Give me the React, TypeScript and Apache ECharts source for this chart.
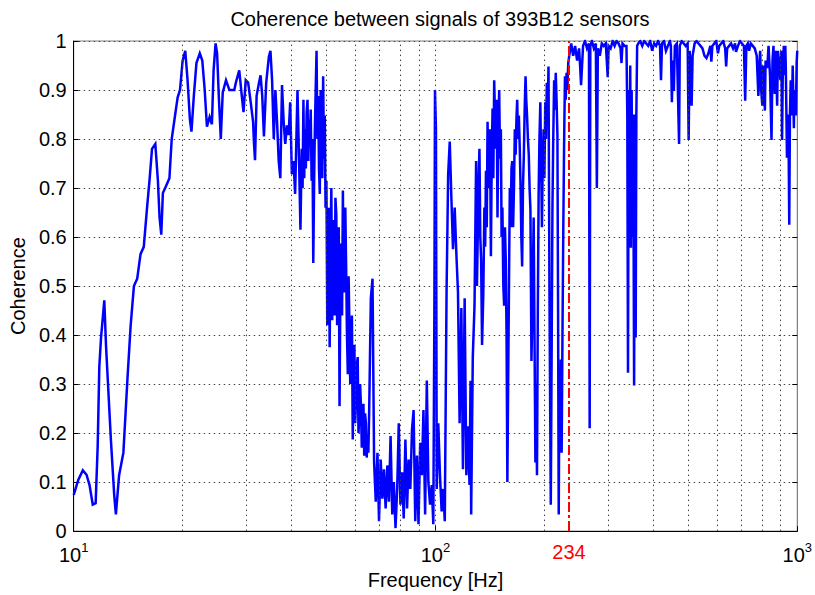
import React, { useEffect, useRef } from 'react';
import * as echarts from 'echarts';

// Coherence, as [frequency Hz, coherence]
const lowBand: [number, number][] = [
  [10.0, 0.074], [10.3, 0.105], [10.6, 0.124], [10.85, 0.115], [11.06, 0.094], [11.29, 0.054], [11.5, 0.057],
  [11.65, 0.174], [11.77, 0.335], [11.9, 0.395], [12.05, 0.44], [12.15, 0.471], [12.28, 0.38], [12.4, 0.32],
  [12.67, 0.187], [12.94, 0.074], [13.08, 0.034], [13.35, 0.114], [13.72, 0.16], [14.07, 0.307], [14.37, 0.42],
  [14.67, 0.5], [14.98, 0.515], [15.3, 0.565], [15.62, 0.58], [15.95, 0.66], [16.22, 0.72], [16.46, 0.78],
  [16.81, 0.79], [17.09, 0.715], [17.27, 0.64], [17.46, 0.605], [17.64, 0.69], [17.9, 0.7], [18.39, 0.72],
  [18.66, 0.8], [19.06, 0.848], [19.38, 0.885], [19.67, 0.9], [20.0, 0.96], [20.34, 0.98], [20.64, 0.92],
  [20.95, 0.84], [21.16, 0.815], [21.48, 0.888], [21.84, 0.955], [22.31, 0.975], [22.67, 0.96], [23.02, 0.9],
  [23.35, 0.825], [23.75, 0.845], [24.1, 0.83], [24.36, 0.94], [24.67, 0.995], [24.91, 0.975], [25.18, 0.888],
  [25.5, 0.8], [25.82, 0.895], [26.36, 0.92], [26.93, 0.9], [27.79, 0.9], [28.07, 0.915], [28.68, 0.94],
  [29.15, 0.888], [29.47, 0.855], [29.89, 0.92], [30.35, 0.915], [30.85, 0.875], [31.32, 0.835], [31.51, 0.79],
  [31.71, 0.757], [32.03, 0.888], [32.52, 0.915], [32.85, 0.93], [33.2, 0.888], [33.56, 0.805], [34.05, 0.915],
  [34.63, 0.968], [34.98, 0.98], [35.35, 0.92], [35.73, 0.8], [36.1, 0.9], [36.48, 0.835], [36.87, 0.755],
  [37.25, 0.72], [37.65, 0.91], [38.05, 0.835], [38.44, 0.79], [38.85, 0.828], [39.27, 0.808], [39.66, 0.875],
  [40.09, 0.728], [40.52, 0.755], [40.93, 0.688], [41.55, 0.9], [41.97, 0.755], [42.34, 0.615],
];

const midBand: [number, number][] = [
  [42.69, 0.78], [42.92, 0.7], [43.15, 0.88], [43.37, 0.72], [43.58, 0.82], [43.82, 0.74], [44.05, 0.855],
  [44.29, 0.88], [44.52, 0.755], [44.75, 0.84], [44.97, 0.795], [45.2, 0.86], [45.46, 0.715], [45.7, 0.8],
  [45.94, 0.547], [46.17, 0.7], [46.41, 0.82], [46.65, 0.9], [46.91, 0.98], [47.15, 0.8], [47.41, 0.888],
  [47.65, 0.74], [47.89, 0.688], [48.15, 0.9], [48.4, 0.82], [48.66, 0.72], [48.92, 0.928], [49.17, 0.76],
  [49.42, 0.848], [49.68, 0.66], [49.95, 0.715], [50.22, 0.42], [50.48, 0.515], [50.74, 0.66], [50.99, 0.375],
  [51.27, 0.58], [51.54, 0.7], [51.82, 0.43], [52.1, 0.635], [52.36, 0.5], [52.62, 0.44], [52.9, 0.68],
  [53.19, 0.647], [53.47, 0.42], [53.76, 0.555], [54.03, 0.62], [54.3, 0.255], [54.6, 0.5], [54.88, 0.587],
  [55.18, 0.44], [55.47, 0.695], [55.75, 0.5], [56.03, 0.487], [56.33, 0.66], [56.63, 0.54], [56.93, 0.4],
  [57.24, 0.32], [57.53, 0.52], [57.82, 0.42], [58.13, 0.3], [58.44, 0.36], [58.75, 0.44], [59.07, 0.187],
  [59.37, 0.33], [59.67, 0.38], [59.99, 0.22], [60.31, 0.267], [60.63, 0.34], [60.95, 0.355], [61.26, 0.2],
  [61.57, 0.234], [61.9, 0.3], [62.23, 0.255], [62.56, 0.17], [62.9, 0.2], [63.22, 0.26], [63.54, 0.154],
  [63.88, 0.24], [64.22, 0.22], [64.56, 0.15], [64.91, 0.194], [65.23, 0.16], [65.56, 0.24], [66.27, 0.475],
  [66.98, 0.515], [67.66, 0.14], [68.38, 0.06], [69.12, 0.16], [69.81, 0.02], [70.56, 0.146], [71.32, 0.066],
  [72.04, 0.126], [72.82, 0.046], [73.6, 0.134], [74.34, 0.06], [75.14, 0.194], [75.95, 0.034], [76.71, 0.1],
  [77.54, 0.006], [78.37, 0.086], [79.16, 0.22], [80.01, 0.054], [80.87, 0.12], [81.69, 0.026], [82.57, 0.187],
  [83.45, 0.046], [84.3, 0.146], [85.2, 0.086], [86.12, 0.207], [86.99, 0.247], [87.92, 0.02], [88.87, 0.154],
  [89.76, 0.014], [90.73, 0.18], [91.7, 0.114], [92.63, 0.247], [93.62, 0.034], [94.63, 0.307], [95.58, 0.1],
  [96.61, 0.054], [97.65, 0.094], [98.63, 0.014], [99.3, 0.45], [99.69, 0.9], [100.3, 0.82], [100.8, 0.086],
];

const upperBand: [number, number][] = [
  [101.8, 0.22], [102.9, 0.114], [104.0, 0.04], [105.0, 0.086], [106.1, 0.02], [107.3, 0.487], [108.4, 0.728],
  [109.5, 0.795], [110.7, 0.675], [111.8, 0.575], [113.0, 0.66], [114.2, 0.567], [115.4, 0.487], [116.6, 0.22],
  [117.9, 0.455], [119.1, 0.126], [120.4, 0.475], [121.7, 0.114], [122.9, 0.214], [124.2, 0.094], [125.0, 0.307],
  [125.5, 0.034], [126.8, 0.355], [128.2, 0.46], [128.9, 0.62], [129.5, 0.755], [130.2, 0.5], [130.9, 0.607],
  [131.6, 0.72], [132.3, 0.78], [133.0, 0.6], [133.7, 0.555], [134.5, 0.38], [135.6, 0.487], [136.5, 0.66],
  [137.2, 0.58], [137.9, 0.735], [138.6, 0.62], [139.3, 0.835], [140.0, 0.7], [140.8, 0.755], [141.5, 0.82],
  [142.3, 0.561], [143.0, 0.75], [143.8, 0.862], [144.5, 0.72], [145.3, 0.92], [146.1, 0.84], [146.9, 0.78],
  [147.6, 0.88], [148.4, 0.64], [149.2, 0.82], [150.0, 0.9], [150.8, 0.76], [151.6, 0.82], [152.3, 0.6],
  [153.1, 0.66], [154.0, 0.5], [154.8, 0.46], [155.6, 0.62], [156.4, 0.555], [157.2, 0.4], [158.0, 0.1],
  [158.8, 0.3], [159.7, 0.515], [160.5, 0.7], [161.4, 0.62], [162.2, 0.74], [163.0, 0.755], [163.9, 0.62],
  [164.8, 0.7], [165.7, 0.82], [166.6, 0.768], [167.4, 0.84], [168.2, 0.88], [169.1, 0.8], [170.0, 0.848],
  [171.0, 0.78], [171.9, 0.7], [172.7, 0.6], [173.6, 0.54], [174.5, 0.7], [175.5, 0.768], [176.4, 0.86],
  [177.4, 0.928], [178.2, 0.88], [179.1, 0.848], [180.1, 0.8], [181.1, 0.768], [182.0, 0.7], [183.0, 0.655],
  [184.2, 0.347], [185.7, 0.5], [186.8, 0.64], [187.8, 0.4], [188.9, 0.14], [189.8, 0.3], [190.8, 0.114],
  [191.8, 0.45], [192.8, 0.688], [193.8, 0.8], [194.9, 0.875], [195.9, 0.75], [196.9, 0.62], [197.9, 0.75],
  [199.0, 0.82], [200.0, 0.72], [201.1, 0.875], [202.1, 0.8], [203.1, 0.915], [204.2, 0.85], [205.3, 0.948],
  [206.6, 0.475], [208.3, 0.054], [209.4, 0.35], [210.5, 0.655], [211.6, 0.8], [212.8, 0.92], [213.9, 0.86],
  [215.0, 0.935], [216.1, 0.88], [217.3, 0.808], [218.2, 0.45], [219.1, 0.034], [220.0, 0.3], [221.0, 0.16],
  [222.1, 0.35], [223.2, 0.16], [224.4, 0.4], [225.6, 0.62], [226.8, 0.8], [228.0, 0.928], [229.1, 0.88],
  [230.3, 0.935], [231.5, 0.9], [232.8, 0.955],
];

const highBand: [number, number][] = [
  [235.3, 0.98], [237.2, 0.995], [240.2, 0.97], [243.2, 0.99], [246.3, 0.96], [249.4, 0.985], [251.0, 0.95],
  [252.6, 0.91], [255.8, 0.99], [259.0, 1.0], [262.3, 0.985], [265.6, 0.995], [266.8, 0.21], [267.9, 0.99],
  [270.6, 1.0], [274.0, 0.985], [277.5, 0.995], [279.3, 0.7], [281.1, 0.985], [284.6, 0.97], [288.2, 0.995],
  [291.8, 0.99], [295.6, 0.995], [299.3, 0.926], [301.1, 0.99], [304.9, 0.985], [308.8, 1.0], [312.7, 0.99],
  [316.6, 1.0], [320.6, 0.995], [324.7, 0.985], [326.7, 0.955], [328.8, 0.995], [333.0, 0.99], [337.2, 0.99],
  [339.0, 0.85], [340.5, 0.323], [342.0, 0.9], [343.7, 0.578], [345.4, 0.95], [346.9, 0.578], [348.5, 0.9],
  [350.2, 0.6], [352.0, 0.85], [354.0, 0.297], [355.8, 0.85], [357.6, 0.395], [359.1, 0.85], [360.9, 0.99],
  [363.6, 0.995], [368.2, 1.0], [372.9, 0.99], [377.6, 1.0], [382.4, 0.995], [387.2, 0.99], [392.1, 1.0],
  [397.1, 0.98], [402.1, 0.995], [407.2, 0.99], [412.3, 1.0], [417.5, 0.99], [420.1, 0.92], [422.8, 0.995],
  [428.2, 1.0], [433.6, 0.98], [439.1, 0.99], [444.6, 1.0], [447.4, 0.99], [450.2, 0.875], [453.0, 0.96],
  [455.9, 0.898], [458.8, 0.99], [464.6, 0.995], [471.3, 0.79], [473.4, 0.99], [479.4, 1.0], [485.5, 0.995],
  [491.6, 0.99], [497.8, 0.995], [500.9, 0.798], [504.1, 0.98], [507.3, 0.95], [510.5, 0.868], [513.7, 0.97],
  [520.3, 0.995], [526.8, 1.0], [533.4, 0.995], [540.2, 0.99], [547.0, 0.985], [554.0, 0.97], [561.0, 0.965],
  [568.1, 0.975], [575.2, 0.99], [578.8, 0.958], [582.4, 0.99], [589.8, 0.995], [597.2, 1.0], [603.6, 0.975],
  [608.6, 0.99], [616.3, 0.995], [624.1, 1.0], [632.0, 0.985], [636.0, 0.948], [640.0, 0.985], [648.1, 0.99],
  [656.3, 0.995], [664.6, 0.985], [673.0, 0.995], [677.2, 0.978], [685.8, 0.99], [694.4, 1.0], [703.2, 0.995],
  [712.1, 0.99], [717.9, 0.878], [723.3, 0.99], [730.1, 0.995], [736.1, 0.98], [744.0, 0.995], [753.4, 0.99],
  [762.9, 0.985], [772.5, 0.97], [780.8, 0.888], [784.8, 0.95], [789.7, 0.98], [794.7, 0.9], [800.7, 0.868],
  [804.7, 0.95], [809.8, 0.9], [813.8, 0.858], [817.4, 0.96], [826.2, 0.945], [833.0, 0.99], [840.8, 0.93],
  [848.8, 0.798], [854.2, 0.96], [859.6, 0.99], [866.6, 0.892], [873.2, 0.98], [879.8, 0.868], [884.2, 0.98],
  [889.8, 0.96], [898.2, 0.92], [903.9, 0.98], [907.8, 0.798], [912.4, 0.95], [918.1, 0.99], [922.7, 0.93],
  [926.8, 0.99], [929.7, 0.945], [936.7, 0.762], [941.4, 0.85], [946.2, 0.8], [950.3, 0.625], [954.5, 0.85],
  [959.3, 0.92], [966.6, 0.848], [971.4, 0.95], [978.7, 0.822], [980.6, 0.88], [986.8, 0.9], [991.1, 0.848],
  [996.1, 0.955], [1000, 0.98],
];

const gridFreqs = [20, 30, 40, 50, 60, 70, 80, 90, 100, 200, 300, 400, 500, 600, 700, 800, 900];
const markerFreq = 234;
const titleText = 'Coherence between signals of 393B12 sensors';
const xName = 'Frequency [Hz]';
const yName = 'Coherence';

const FONT = "'Liberation Sans', Arial, Helvetica, sans-serif";

export default function App() {
  const ref = useRef<HTMLDivElement>(null);
  useEffect(() => {
    if (!ref.current) return;
    const chart = echarts.init(ref.current, null, { renderer: 'svg' });
    const data = [...lowBand, ...midBand, ...upperBand, ...highBand];
    const dotted = { color: '#444', width: 1, type: [1.5, 3.5] as any };
    chart.setOption({
      animation: false,
      backgroundColor: '#ffffff',
      textStyle: { fontFamily: FONT },
      title: {
        text: titleText,
        left: 435,
        top: 4,
        textAlign: 'center',
        textStyle: { fontFamily: FONT, fontSize: 20, fontWeight: 'normal', color: '#000' },
      },
      grid: {
        left: 69, right: 13, top: 41, bottom: 55,
        show: true, borderColor: '#808080', borderWidth: 1, backgroundColor: '#fff',
      },
      xAxis: {
        type: 'log',
        logBase: 10,
        min: 10,
        max: 1000,
        name: xName,
        nameLocation: 'middle',
        nameGap: 30,
        nameTextStyle: { fontFamily: FONT, fontSize: 20, color: '#000' },
        axisLine: { show: true, lineStyle: { color: '#000', width: 1 } },
        axisTick: { show: true, inside: true, length: 5, lineStyle: { color: '#000' } },
        splitLine: { show: false },
        axisLabel: {
          margin: 10,
          color: '#000',
          formatter: (v: number) => `{b|10}{e|${Math.round(Math.log10(v))}}`,
          rich: {
            b: { fontFamily: FONT, fontSize: 20, color: '#000', verticalAlign: 'bottom', lineHeight: 24 },
            e: { fontFamily: FONT, fontSize: 13, color: '#000', verticalAlign: 'top', lineHeight: 14 },
          },
        },
      },
      yAxis: [
        {
          type: 'value',
          min: 0,
          max: 1,
          interval: 0.1,
          name: yName,
          nameLocation: 'middle',
          nameRotate: 90,
          nameGap: 34,
          nameTextStyle: { fontFamily: FONT, fontSize: 20, color: '#000' },
          axisLine: { show: true, lineStyle: { color: '#000', width: 1 } },
          axisTick: { show: true, inside: true, length: 5, lineStyle: { color: '#000' } },
          axisLabel: {
            margin: 7,
            color: '#000',
            fontFamily: FONT,
            fontSize: 20,
            formatter: (v: number) => String(Number(v.toFixed(1))),
          },
          splitLine: { show: true, lineStyle: dotted },
        },
        {
          type: 'value',
          position: 'right',
          min: 0,
          max: 1,
          interval: 0.1,
          axisLine: { show: true, lineStyle: { color: '#808080', width: 1 } },
          axisTick: { show: true, inside: true, length: 5, lineStyle: { color: '#000' } },
          axisLabel: { show: false },
          splitLine: { show: false },
        },
      ],
      series: [
        {
          type: 'line',
          data: [],
          z: 1,
          silent: true,
          markLine: {
            silent: true,
            symbol: ['none', 'none'],
            label: { show: false },
            lineStyle: dotted,
            data: gridFreqs.map((f) => ({ xAxis: f })),
          },
        },
        {
          type: 'line',
          data,
          z: 3,
          showSymbol: false,
          symbol: 'none',
          smooth: false,
          lineStyle: { color: '#0000ff', width: 2.5, join: 'miter', miterLimit: 4 },
          itemStyle: { color: '#0000ff' },
          markLine: {
            silent: true,
            symbol: ['none', 'none'],
            lineStyle: { color: '#ff0000', width: 2, type: [10, 3, 3, 3] as any },
            label: {
              show: true,
              position: 'start',
              distance: 11,
              formatter: String(markerFreq),
              color: '#ff0000',
              fontFamily: FONT,
              fontSize: 20,
            },
            data: [{ xAxis: markerFreq }],
          },
        },
      ],
    });
    return () => {
      chart.dispose();
    };
  }, []);
  return (
    <div
      ref={ref}
      style={{ position: 'absolute', left: 0, top: 0, width: 815, height: 595, background: '#fff' }}
    />
  );
}
